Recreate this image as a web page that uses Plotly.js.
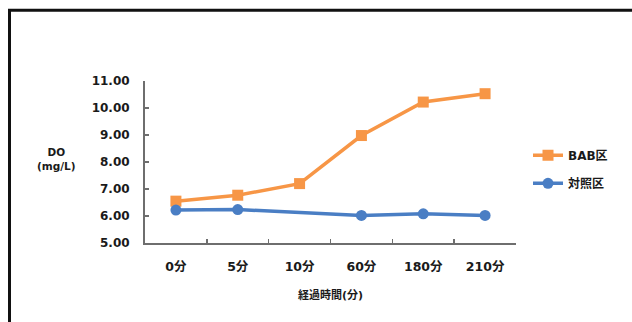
<!DOCTYPE html>
<html>
<head>
<meta charset="utf-8">
<script src="https://cdn.plot.ly/plotly-3.0.1.min.js"></script>
<style>
  html, body { margin: 0; padding: 0; background: #ffffff; }
  #chart { width: 632px; height: 322px; }
</style>
</head>
<body>
<div id="chart"></div>
<script>
// Dissolved oxygen over elapsed time
const categories = ['0分', '5分', '10分', '60分', '180分', '210分'];
const babValues = [6.55, 6.77, 7.20, 8.98, 10.22, 10.53];
const controlValues = [6.22, 6.24, null, 6.02, 6.08, 6.02];
const seriesNames = ['BAB区', '対照区'];
const yTickValues = [5, 6, 7, 8, 9, 10, 11];

const FONT = 'DejaVu Sans, "Noto Sans CJK JP", sans-serif';
const INK = '#1a1a1a';
const ORANGE = '#F79646';
const BLUE = '#4A7EC4';

// plot area in pixels, used to place the outer frame in paper units
const W = 632, H = 322;
const L = 145, R = 116, T = 81, B = 78.5;
const pw = W - L - R, ph = H - T - B;
const px = v => (v - L) / pw;
const py = v => (H - B - v) / ph;

const traces = [
  {
    x: categories, y: babValues, name: seriesNames[0],
    type: 'scatter', mode: 'lines+markers', legendgroup: 'a',
    line: { color: ORANGE, width: 3.5 },
    marker: { symbol: 'square', size: 11, color: ORANGE }
  },
  {
    x: categories, y: controlValues, name: seriesNames[1],
    type: 'scatter', mode: 'lines+markers', legendgroup: 'b',
    connectgaps: true,
    line: { color: BLUE, width: 3.5 },
    marker: { symbol: 'circle', size: 11, color: BLUE }
  }
];

const layout = {
  width: W, height: H,
  margin: { l: L, r: R, t: T, b: B },
  paper_bgcolor: '#ffffff', plot_bgcolor: '#ffffff',
  font: { family: FONT, color: INK, size: 11, weight: 'bold' },
  showlegend: true,
  legend: {
    x: px(528), xanchor: 'left', y: py(141), yanchor: 'top',
    font: { family: FONT, size: 12, color: INK, weight: 'bold' },
    traceorder: 'grouped', tracegroupgap: 9,
    bgcolor: 'rgba(0,0,0,0)'
  },
  xaxis: {
    type: 'category', range: [-0.5, 5.5],
    showline: true, linecolor: '#6e6e6e', linewidth: 2,
    ticks: 'inside', tickson: 'boundaries', ticklen: 4, tickcolor: '#6e6e6e', tickwidth: 1.5,
    showgrid: false, zeroline: false,
    ticklabelstandoff: 11,
    tickfont: { family: FONT, size: 12.5, color: INK, weight: 'bold' },
    title: {
      text: '経過時間(分)', standoff: 18,
      font: { family: FONT, size: 11, color: INK, weight: 'bold' }
    },
    fixedrange: true
  },
  yaxis: {
    range: [5, 11], tickvals: yTickValues, tickformat: '.2f',
    showline: true, linecolor: '#6e6e6e', linewidth: 2,
    ticks: 'inside', ticklen: 4, tickcolor: '#6e6e6e', tickwidth: 1.5,
    showgrid: false, zeroline: false,
    ticklabelstandoff: 11,
    tickfont: { family: FONT, size: 12, color: INK, weight: 'bold' },
    fixedrange: true
  },
  annotations: [
    {
      xref: 'paper', yref: 'paper', x: px(56), y: py(159),
      xanchor: 'center', yanchor: 'middle', showarrow: false,
      text: 'DO<br>(mg/L)', align: 'center',
      font: { family: FONT, size: 10.5, color: INK, weight: 'bold' }
    }
  ],
  shapes: [
    // outer frame: top edge and left edge
    { type: 'line', xref: 'paper', yref: 'paper', x0: px(8), x1: px(650), y0: py(10), y1: py(10),
      line: { color: '#111111', width: 3 } },
    { type: 'line', xref: 'paper', yref: 'paper', x0: px(9.5), x1: px(9.5), y0: py(9), y1: py(340),
      line: { color: '#111111', width: 3 } }
  ]
};

Plotly.newPlot('chart', traces, layout, { staticPlot: true, displayModeBar: false });
</script>
</body>
</html>
